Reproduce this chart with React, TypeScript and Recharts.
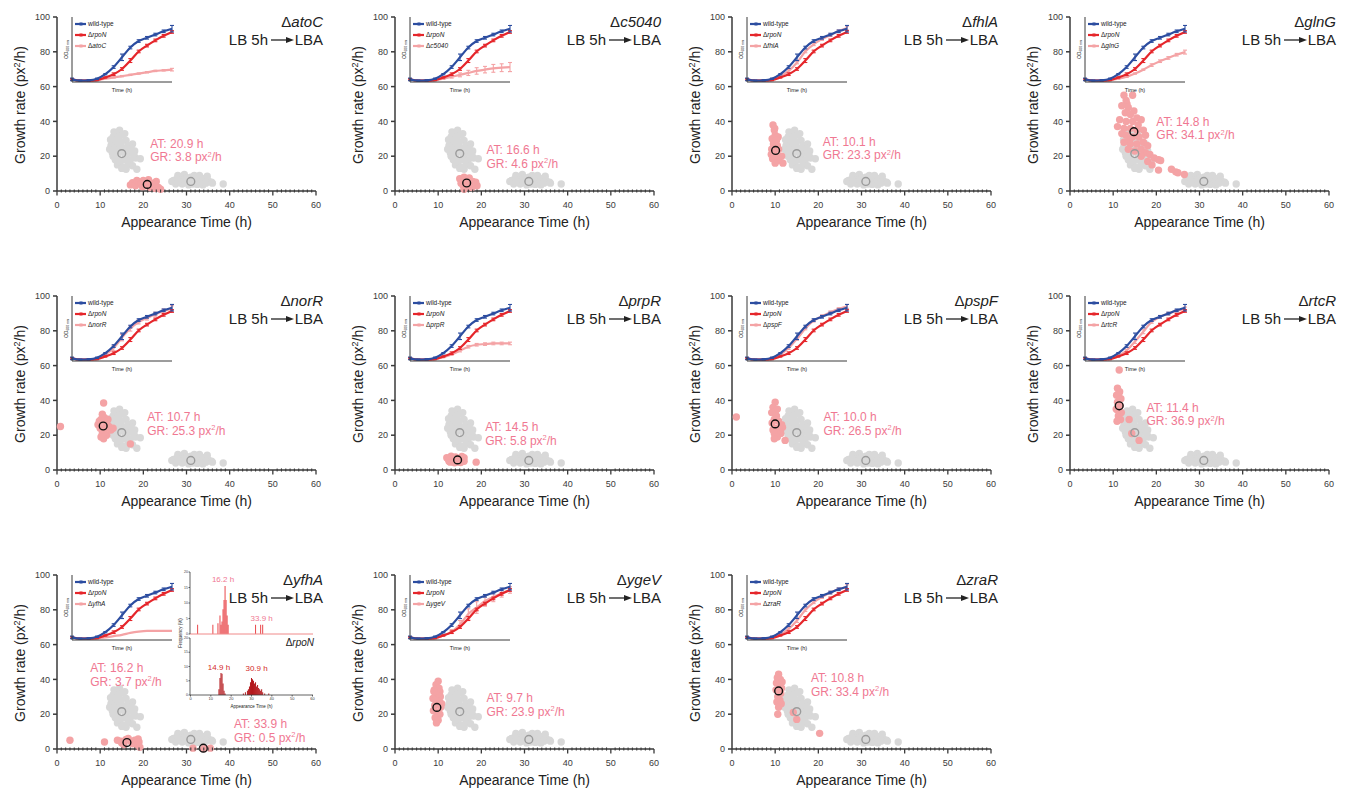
import React from 'react';
import {
  ScatterChart, Scatter, XAxis, YAxis, LineChart, Line, ErrorBar,
  BarChart, Bar, ReferenceDot,
} from 'recharts';

const FONT = '"Liberation Sans", Arial, Helvetica, sans-serif';
const INK = '#222222';
const AXIS = '#3a3a3a';
const GRAY = '#d8d8d8';
const GRAY_RING = '#9b9b9b';
const PINK = '#f4a3a5';
const PINK_TEXT = '#f07892';
const BLUE = '#2c4da0';
const RED = '#e5262b';
const HIST_TOP = '#e9474b';
const HIST_BOTTOM = '#b3171b';

type Pt = [number, number];

// ΔrpoN colonies (grey, same on every panel)
const rpoNEarlyPts: Pt[] = [
  [13.2, 34], [14.5, 35], [13, 31], [14, 30], [15, 32], [15.7, 33], [14.2, 31.5],
  [13.5, 28], [14.8, 28], [16, 29], [12.5, 26], [13.8, 25], [15.2, 25], [16.5, 26],
  [17.5, 27], [12.2, 24], [14.2, 24], [16.3, 24], [13.6, 23], [12.8, 22], [14, 21],
  [15.5, 22], [16.8, 22], [18, 23], [13, 20], [16, 20], [17.8, 21], [13.5, 18],
  [14.5, 17], [15.8, 18], [17, 18], [18.2, 19], [19.3, 18.5], [14, 15], [15.2, 14],
  [16.5, 15], [17.5, 14.5], [15, 13], [16, 12.5], [18.5, 12.5], [12.4, 29.5], [17.2, 24.5],
];
const rpoNLatePts: Pt[] = [
  [26.6, 5.5], [27, 6], [27.5, 4], [27.8, 7], [28, 5], [28, 9], [28.5, 8], [29, 7],
  [29, 4], [29.5, 9.5], [30, 5], [30, 7.5], [30.5, 3.5], [30.8, 6], [31, 8], [31.5, 4],
  [31.8, 9], [32, 6], [32.5, 3.8], [33, 9], [33, 7], [33.5, 5], [33.8, 3.5], [34, 7],
  [34.5, 4.5], [34.8, 8.5], [35, 6], [35.8, 5], [36, 4.5], [38.5, 4], [29.5, 6], [32.2, 7.8],
];
const rpoNMedians: Pt[] = [[15, 21.5], [31, 5.5]];

// mutant colonies (pink)
const atoCPts: Pt[] = [
  [17, 3.5], [17.5, 4.8], [18, 4], [18.2, 3], [18.5, 6], [19, 5], [19.5, 4], [19.8, 2.5],
  [20, 6], [20.2, 4.2], [20.5, 3], [21, 5], [21.2, 6.5], [21.5, 2], [22, 4.5], [22.5, 3],
  [22.8, 1.5], [23, 5.5], [23.5, 2], [24, 1],
];
const c5040Pts: Pt[] = [
  [15, 7], [15.5, 6], [16, 8], [16.5, 5], [17, 6.5], [17.5, 4], [18, 5.5], [18.5, 3.5],
  [19, 3], [16, 1], [15.8, 3], [16.8, 2.5], [17.8, 2], [15.3, 4.5], [18.7, 5], [16.3, 6.8], [17.2, 7.5],
];
const fhlAPts: Pt[] = [
  [9.5, 38], [9.8, 35], [9.9, 36], [10, 32], [10.7, 31], [9.3, 30], [10.3, 29], [9.6, 27],
  [10.5, 26], [9.2, 24], [10.8, 24], [9.6, 22], [9.1, 21], [10.2, 20], [10.9, 19], [9.4, 18.5],
  [10.6, 17.5], [10, 16], [11.5, 20], [11.8, 16],
];
const glnGPts: Pt[] = [
  [12.5, 55], [13, 52], [14.5, 55], [13.2, 50], [12, 49], [13.5, 48], [14.8, 46], [12.8, 45],
  [14, 44], [11.5, 41], [13, 40], [14.5, 40], [15.5, 42], [16.5, 41], [15.8, 38], [11, 37],
  [12.5, 36], [14, 36], [15.5, 35], [17, 35], [12, 33], [13, 32], [14.5, 31], [16, 31],
  [17.5, 32], [13.8, 29], [12.5, 28], [14, 27], [15.5, 27], [17, 28], [18, 26], [13.5, 24],
  [15, 23], [16.5, 24], [17.5, 22], [18.5, 21], [19.5, 19], [20.5, 18], [21, 17.5], [16.5, 20],
  [18, 17], [19, 15], [20.5, 12], [23.5, 12.5], [24.5, 11], [25, 10.5], [26.5, 9.5],
];
const norRPts: Pt[] = [
  [0.8, 25], [10.8, 38.5], [9.5, 26], [10.5, 32], [11, 30], [10.2, 29], [11.5, 27], [10, 24],
  [11, 23], [12, 25], [13, 24], [10.5, 21], [11.5, 20], [10.8, 18], [10.2, 19], [11.3, 26.5],
  [9.8, 28], [17, 15], [12.5, 23], [11.8, 29],
];
const prpRPts: Pt[] = [
  [12, 7], [12.3, 6.5], [12.5, 5], [12.8, 4.5], [13, 8], [13.5, 6], [13.8, 4.2], [14, 7.5],
  [14.2, 6], [14.5, 4.5], [15, 6.5], [15.2, 4.3], [15.5, 7.8], [16, 5], [16, 7], [18.8, 4.5],
];
const pspFPts: Pt[] = [
  [1, 30.5], [10, 39], [9.5, 36], [10.5, 35], [10.1, 34], [9.2, 33], [10.3, 31], [9.8, 29],
  [10.8, 28], [9.3, 27], [11.5, 26], [10.5, 24], [11.7, 24.5], [9.5, 23], [11.2, 22], [9.8, 21],
  [11.3, 21], [10.5, 19], [9.8, 18], [12.3, 17],
];
const rtcRPts: Pt[] = [
  [11.4, 57.5], [11, 47], [11.5, 45], [11.3, 44], [10.8, 43], [11.8, 41], [11, 39], [11.6, 37],
  [10.7, 35], [11, 34.5], [11.9, 33], [11.2, 31], [11.7, 29], [10.9, 28], [13.7, 29], [14.3, 21], [16, 17],
];
const yfhAPts: Pt[] = [
  [3, 5], [11, 4], [14, 5], [14.8, 4.5], [15, 3.5], [15.5, 2.5], [16, 5.5], [16.5, 6], [17, 4.5],
  [17.5, 3], [18, 5], [18.5, 2.5], [18.8, 5.8], [19, 4], [19.2, 1], [31.5, 0.5], [34, 0.2], [35.5, 0.5],
];
const ygeVPts: Pt[] = [
  [10, 39], [9.5, 37], [10.2, 35], [9.1, 34], [10.4, 33], [9, 33], [9.8, 31], [10.5, 30],
  [8.8, 29], [9.5, 28], [10.3, 27], [10.8, 26], [9.2, 25], [10.6, 24], [8.9, 22], [9.7, 21],
  [10.4, 20], [9.3, 18], [10, 16.5], [9.6, 15],
];
const zraRPts: Pt[] = [
  [10.8, 43], [10.5, 41], [11.2, 40], [11.6, 38.5], [10.3, 38], [11, 37], [11.5, 35], [10.2, 34],
  [11.3, 32], [10.6, 30], [11.1, 28], [10.4, 27], [11.4, 26], [10.8, 24], [10.6, 20], [14.2, 21],
  [15, 17], [20.3, 9],
];

// medians: [appearance time h, growth rate px²/h]
const atoCMed: Pt[] = [[20.9, 3.8]];
const c5040Med: Pt[] = [[16.6, 4.6]];
const fhlAMed: Pt[] = [[10.1, 23.3]];
const glnGMed: Pt[] = [[14.8, 34.1]];
const norRMed: Pt[] = [[10.7, 25.3]];
const prpRMed: Pt[] = [[14.5, 5.8]];
const pspFMed: Pt[] = [[10.0, 26.5]];
const rtcRMed: Pt[] = [[11.4, 36.9]];
const yfhAMed: Pt[] = [[16.2, 3.7], [33.9, 0.5]];
const ygeVMed: Pt[] = [[9.7, 23.9]];
const zraRMed: Pt[] = [[10.8, 33.4]];

// inset growth curves (OD600, normalised)
const odTime = [0, 2, 4, 6, 8, 10, 12, 14, 16, 18, 20, 22, 24];
const wtOD = [0.04, 0.02, 0.025, 0.05, 0.12, 0.23, 0.38, 0.53, 0.63, 0.68, 0.73, 0.78, 0.82];
const wtErr = [0.02, 0.01, 0.01, 0.01, 0.01, 0.02, 0.05, 0.02, 0.02, 0.02, 0.02, 0.02, 0.05];
const rpoNOD = [0.04, 0.02, 0.02, 0.03, 0.07, 0.12, 0.2, 0.33, 0.47, 0.56, 0.64, 0.71, 0.77];
const rpoNErr = [0.01, 0, 0.01, 0.01, 0.01, 0.02, 0.02, 0.03, 0.02, 0.02, 0.02, 0.02, 0.02];
const atoCOD = [0.04, 0.02, 0.02, 0.03, 0.05, 0.07, 0.09, 0.11, 0.13, 0.15, 0.17, 0.18, 0.19];
const atoCErr = [0.01, 0, 0, 0, 0, 0.01, 0.01, 0.01, 0.01, 0.01, 0.01, 0.01, 0.02];
const c5040OD = [0.04, 0.02, 0.02, 0.03, 0.05, 0.08, 0.11, 0.14, 0.17, 0.19, 0.21, 0.22, 0.23];
const c5040Err = [0.01, 0, 0, 0, 0.01, 0.02, 0.03, 0.04, 0.05, 0.05, 0.06, 0.06, 0.07];
const fhlAOD = [0.04, 0.02, 0.02, 0.04, 0.09, 0.17, 0.3, 0.47, 0.58, 0.66, 0.72, 0.78, 0.83];
const fhlAErr = [0.01, 0, 0, 0, 0.01, 0.02, 0.02, 0.02, 0.02, 0.02, 0.02, 0.02, 0.03];
const glnGOD = [0.04, 0.02, 0.02, 0.03, 0.05, 0.08, 0.13, 0.19, 0.26, 0.32, 0.37, 0.42, 0.46];
const glnGErr = [0.01, 0, 0, 0, 0.01, 0.01, 0.01, 0.01, 0.02, 0.02, 0.02, 0.02, 0.03];
const norROD = [0.04, 0.02, 0.02, 0.04, 0.1, 0.2, 0.36, 0.5, 0.6, 0.66, 0.72, 0.77, 0.8];
const norRErr = [0.01, 0, 0, 0.01, 0.02, 0.04, 0.05, 0.04, 0.03, 0.03, 0.03, 0.03, 0.05];
const prpROD = [0.04, 0.02, 0.02, 0.03, 0.06, 0.1, 0.16, 0.22, 0.25, 0.26, 0.27, 0.27, 0.27];
const prpRErr = [0.01, 0, 0, 0, 0.01, 0.01, 0.02, 0.02, 0.02, 0.02, 0.02, 0.02, 0.02];
const pspFOD = [0.04, 0.02, 0.02, 0.04, 0.1, 0.2, 0.34, 0.5, 0.62, 0.69, 0.75, 0.8, 0.84];
const pspFErr = [0.01, 0, 0, 0, 0.01, 0.02, 0.02, 0.02, 0.02, 0.02, 0.02, 0.02, 0.03];
const rtcROD = [0.04, 0.02, 0.02, 0.04, 0.08, 0.16, 0.3, 0.45, 0.6, 0.68, 0.73, 0.77, 0.8];
const rtcRErr = [0.01, 0, 0, 0, 0.01, 0.02, 0.03, 0.03, 0.02, 0.02, 0.02, 0.02, 0.03];
const yfhAOD = [0.04, 0.02, 0.02, 0.03, 0.04, 0.06, 0.08, 0.11, 0.13, 0.14, 0.14, 0.14, 0.14];
const ygeVOD = [0.04, 0.02, 0.02, 0.03, 0.07, 0.13, 0.24, 0.4, 0.5, 0.6, 0.66, 0.72, 0.77];
const ygeVErr = [0.01, 0, 0, 0, 0.01, 0.03, 0.06, 0.08, 0.09, 0.08, 0.07, 0.06, 0.05];
const zraROD = [0.04, 0.02, 0.02, 0.04, 0.08, 0.17, 0.3, 0.46, 0.58, 0.66, 0.73, 0.78, 0.82];
const zraRErr = [0.01, 0, 0, 0, 0.01, 0.02, 0.03, 0.02, 0.02, 0.02, 0.02, 0.02, 0.03];

// appearance-time histograms (ΔyfhA panel), 0.5 h bins, frequency %
const histBins = Array.from({ length: 121 }, (_, i) => i * 0.5);
const yfhAHistAt = [3.5, 11, 13.5, 14.5, 15, 15.5, 16, 16.5, 17, 17.5, 18, 18.5, 32, 34.5, 35.5];
const yfhAHistFreq = [3, 3, 3.5, 6, 3, 4, 8, 11, 15.5, 11, 6, 3, 3, 3, 3];
const rpoNHistAt = [14, 14.5, 15, 15.5, 16, 16.5, 17, 26, 27, 28, 28.5, 29, 29.5, 30, 30.5, 31, 31.5, 32, 32.5, 33, 33.5, 34, 34.5, 35, 35.5, 36.5, 38.5];
const rpoNHistFreq = [2, 6, 7.7, 7.5, 4, 1.5, 0.5, 0.5, 1, 1.5, 2, 3, 4.5, 6, 5.5, 5, 4, 4.5, 3, 3.5, 2.5, 2, 1.5, 2, 1, 0.5, 0.5];

const timeTicks = Array.from({ length: 61 }, (_, i) => i);
const rateTicks = [0, 20, 40, 60, 80, 100];
const odXTicks = [0, 3.43, 6.86, 10.29, 13.71, 17.14, 20.57, 24];
const odYTicks = [0.125, 0.375, 0.625, 0.875];

const colLeft = [0, 338, 675, 1013];
const rowTop = [0, 279, 558];

type PanelDef = {
  gene: string; col: number; row: number; pts: Pt[]; med: Pt[];
  noteAt: Pt[]; od: number[]; err?: number[]; hist?: boolean;
};

const panels: PanelDef[] = [
  { gene: 'atoC', col: 0, row: 0, pts: atoCPts, med: atoCMed, noteAt: [[21.6, 24.8]], od: atoCOD, err: atoCErr },
  { gene: 'c5040', col: 1, row: 0, pts: c5040Pts, med: c5040Med, noteAt: [[21.2, 21.2]], od: c5040OD, err: c5040Err },
  { gene: 'fhlA', col: 2, row: 0, pts: fhlAPts, med: fhlAMed, noteAt: [[21, 26]], od: fhlAOD, err: fhlAErr },
  { gene: 'glnG', col: 3, row: 0, pts: glnGPts, med: glnGMed, noteAt: [[20, 37.5]], od: glnGOD, err: glnGErr },
  { gene: 'norR', col: 0, row: 1, pts: norRPts, med: norRMed, noteAt: [[20.9, 28]], od: norROD, err: norRErr },
  { gene: 'prpR', col: 1, row: 1, pts: prpRPts, med: prpRMed, noteAt: [[20.9, 22.3]], od: prpROD, err: prpRErr },
  { gene: 'pspF', col: 2, row: 1, pts: pspFPts, med: pspFMed, noteAt: [[21.2, 28]], od: pspFOD, err: pspFErr },
  { gene: 'rtcR', col: 3, row: 1, pts: rtcRPts, med: rtcRMed, noteAt: [[17.7, 33.6]], od: rtcROD, err: rtcRErr },
  { gene: 'yfhA', col: 0, row: 2, pts: yfhAPts, med: yfhAMed, noteAt: [[7.7, 44.2], [41, 11.9]], od: yfhAOD, hist: true },
  { gene: 'ygeV', col: 1, row: 2, pts: ygeVPts, med: ygeVMed, noteAt: [[21.2, 26.9]], od: ygeVOD, err: ygeVErr },
  { gene: 'zraR', col: 2, row: 2, pts: zraRPts, med: zraRMed, noteAt: [[18.3, 38.4]], od: zraROD, err: zraRErr },
];

const toXY = (pts: Pt[]) => pts.map(([x, y]) => ({ x, y }));

const dotShape = (color: string) => (p: any) => <circle cx={p.cx} cy={p.cy} r={3.7} fill={color} />;
const ringShape = (color: string) => (p: any) => (
  <circle cx={p.cx} cy={p.cy} r={3.9} fill="none" stroke={color} strokeWidth={1.4} />
);

function NoteShape(p: any) {
  const { cx, cy, payload } = p;
  return (
    <g fontFamily={FONT} fontSize={12} fill={PINK_TEXT}>
      <text x={cx} y={cy}>AT: {payload.at} h</text>
      <text x={cx} y={cy + 13.5}>
        GR: {payload.gr} px<tspan dy={-4.5} fontSize={7.5}>2</tspan><tspan dy={4.5}>/h</tspan>
      </text>
    </g>
  );
}

function TimeTick(p: any) {
  const { x, y, payload } = p;
  const v = payload.value;
  if (v % 10 === 0) {
    return (
      <g>
        <line x1={x} x2={x} y1={y} y2={y + 4.5} stroke={AXIS} strokeWidth={1.3} />
        <text x={x} y={y + 16.5} textAnchor="middle" fontSize={9} fill={AXIS} fontFamily={FONT}>{v}</text>
      </g>
    );
  }
  return <line x1={x} x2={x} y1={y - 1.6} y2={y + 1.6} stroke={AXIS} strokeWidth={1.1} />;
}

function GeneName({ gene }: { gene: string }) {
  return (
    <>
      <tspan>Δ</tspan>
      <tspan fontStyle="italic">{gene}</tspan>
    </>
  );
}

function Histograms() {
  const rows = histBins.map((bin) => {
    const a = yfhAHistAt.indexOf(bin);
    const b = rpoNHistAt.indexOf(bin);
    return { bin, mut: a >= 0 ? yfhAHistFreq[a] : 0, rpoN: b >= 0 ? rpoNHistFreq[b] : 0 };
  });
  const tinyTick = { fontSize: 3.5, fill: AXIS, fontFamily: FONT };
  return (
    <>
      <div style={{ position: 'absolute', left: 178, top: 10 }}>
        <BarChart width={138} height={68} data={rows} margin={{ top: 4, right: 3, bottom: 0, left: 0 }} barCategoryGap={0} barGap={0}>
          <XAxis dataKey="bin" interval={19} tick={false} tickSize={1.5} height={2} stroke="#f08a8a" />
          <YAxis type="number" domain={[0, 20]} ticks={[0, 5, 10, 15, 20]} width={12} tickSize={1.5} tickMargin={0.5} tick={tinyTick} stroke={AXIS} strokeWidth={0.8} />
          <Bar dataKey="mut" fill={HIST_TOP} isAnimationActive={false} />
          <ReferenceDot x={16} y={15.5} r={0} fill="none" stroke="none" ifOverflow="visible"
            label={{ value: '16.2 h', position: 'top', offset: 4, fontSize: 8, fill: PINK_TEXT, fontFamily: FONT }} />
          <ReferenceDot x={35} y={2.5} r={0} fill="none" stroke="none" ifOverflow="visible"
            label={{ value: '33.9 h', position: 'top', offset: 5, fontSize: 8, fill: PINK_TEXT, fontFamily: FONT }} />
        </BarChart>
      </div>
      <div style={{ position: 'absolute', left: 178, top: 78 }}>
        <BarChart width={138} height={73} data={rows} margin={{ top: 2, right: 3, bottom: 0, left: 0 }} barCategoryGap={0} barGap={0}>
          <XAxis dataKey="bin" interval={19} tickSize={1.5} tickMargin={0.5} height={14} stroke={AXIS} strokeWidth={0.8}
            tick={{ fontSize: 4, fill: AXIS, fontFamily: FONT }}
            label={{ value: 'Appearance Time (h)', position: 'insideBottom', offset: 1, fontSize: 4.5, fill: INK, fontFamily: FONT }} />
          <YAxis type="number" domain={[0, 20]} ticks={[0, 5, 10, 15, 20]} width={12} tickSize={1.5} tickMargin={0.5} tick={tinyTick} stroke={AXIS} strokeWidth={0.8} />
          <Bar dataKey="rpoN" fill={HIST_BOTTOM} isAnimationActive={false} />
          <ReferenceDot x={14} y={7.7} r={0} fill="none" stroke="none" ifOverflow="visible"
            label={{ value: '14.9 h', position: 'top', offset: 3, fontSize: 8, fill: '#d42a2a', fontFamily: FONT }} />
          <ReferenceDot x={32.5} y={7.4} r={0} fill="none" stroke="none" ifOverflow="visible"
            label={{ value: '30.9 h', position: 'top', offset: 3, fontSize: 8, fill: '#d42a2a', fontFamily: FONT }} />
        </BarChart>
      </div>
    </>
  );
}

function GrowthPanel({ def }: { def: PanelDef }) {
  const curves = odTime.map((t, i) => ({
    t,
    wt: wtOD[i], wtErr: wtErr[i],
    rpoN: rpoNOD[i], rpoNErr: rpoNErr[i],
    mut: def.od[i], mutErr: def.err ? def.err[i] : 0,
  }));
  const notes = def.med.map(([x, y], i) => ({
    x: def.noteAt[i][0], y: def.noteAt[i][1], at: x.toFixed(1), gr: y.toFixed(1),
  }));
  const legend = [
    { color: BLUE, label: <tspan>wild-type</tspan> },
    { color: RED, label: <GeneName gene="rpoN" /> },
    { color: PINK, label: <GeneName gene={def.gene} /> },
  ];
  const legendY = [24, 35, 46];

  return (
    <div style={{ position: 'absolute', left: colLeft[def.col], top: rowTop[def.row], width: 338, height: 240 }}>
      <ScatterChart width={335} height={231} margin={{ top: 17, right: 19, bottom: 0, left: 0 }}>
        <XAxis type="number" dataKey="x" domain={[0, 60]} ticks={timeTicks} interval={0}
          tickSize={0} tickMargin={0} tickLine={false} tick={TimeTick}
          stroke={AXIS} strokeWidth={1.5} height={40}
          label={{ value: 'Appearance Time (h)', position: 'insideBottom', offset: 4, fontSize: 14, fill: INK, fontFamily: FONT }} />
        <YAxis type="number" dataKey="y" domain={[0, 100]} ticks={rateTicks} width={57}
          tickSize={4} tickMargin={3} stroke={AXIS} strokeWidth={1.5}
          tick={{ fontSize: 9, fill: AXIS, fontFamily: FONT }} />
        <Scatter data={toXY(rpoNEarlyPts)} shape={dotShape(GRAY)} isAnimationActive={false} />
        <Scatter data={toXY(rpoNLatePts)} shape={dotShape(GRAY)} isAnimationActive={false} />
        <Scatter data={toXY(def.pts)} shape={dotShape(PINK)} isAnimationActive={false} />
        <Scatter data={toXY(rpoNMedians)} shape={ringShape(GRAY_RING)} isAnimationActive={false} />
        <Scatter data={toXY(def.med)} shape={ringShape('#111111')} isAnimationActive={false} />
        <Scatter data={notes} shape={NoteShape} isAnimationActive={false} />
      </ScatterChart>

      <div style={{ position: 'absolute', left: 60, top: 12 }}>
        <LineChart width={118} height={81} data={curves} margin={{ top: 5, right: 6, bottom: 0, left: 0 }}>
          <XAxis type="number" dataKey="t" domain={[0, 24]} ticks={odXTicks} interval={0} tick={false}
            tickSize={2.5} stroke={AXIS} height={11}
            label={{ value: 'Time (h)', position: 'insideBottom', offset: 1, fontSize: 5.5, fill: INK, fontFamily: FONT }} />
          <YAxis type="number" domain={[0, 1]} ticks={odYTicks} tick={false} tickSize={2.5} width={12} stroke={AXIS} />
          <Line type="monotone" dataKey="mut" stroke={PINK} strokeWidth={2.2} dot={false} isAnimationActive={false}>
            {def.err && <ErrorBar dataKey="mutErr" width={2} stroke={PINK} strokeWidth={1.1} direction="y" />}
          </Line>
          <Line type="monotone" dataKey="rpoN" stroke={RED} strokeWidth={2.2} dot={false} isAnimationActive={false}>
            <ErrorBar dataKey="rpoNErr" width={2} stroke={RED} strokeWidth={1.1} direction="y" />
          </Line>
          <Line type="monotone" dataKey="wt" stroke={BLUE} strokeWidth={2.2} dot={false} isAnimationActive={false}>
            <ErrorBar dataKey="wtErr" width={2} stroke={BLUE} strokeWidth={1.1} direction="y" />
          </Line>
        </LineChart>
      </div>

      {def.hist && <Histograms />}

      <svg width={338} height={240} style={{ position: 'absolute', left: 0, top: 0, pointerEvents: 'none', overflow: 'visible' }} fontFamily={FONT}>
        <text transform="translate(24.5,105) rotate(-90)" textAnchor="middle" fontSize={14} fill={INK}>
          Growth rate (px<tspan dy={-5} fontSize={9}>2</tspan><tspan dy={5}>/h)</tspan>
        </text>
        <text x={323} y={27} textAnchor="end" fontSize={15} fill={INK}><GeneName gene={def.gene} /></text>
        <text x={268} y={45} textAnchor="end" fontSize={15} fill={INK}>LB 5h</text>
        <line x1={271} x2={288} y1={40} y2={40} stroke={INK} strokeWidth={1.3} />
        <polygon points="294,40 286,37 286,43" fill={INK} />
        <text x={323} y={45} textAnchor="end" fontSize={15} fill={INK}>LBA</text>
        <text transform="translate(68,49.5) rotate(-90)" textAnchor="middle" fontSize={5} fill={INK}>
          OD<tspan fontSize={3.5} dy={1}>600 nm</tspan>
        </text>
        {legend.map((item, i) => (
          <g key={i}>
            <line x1={75} x2={86} y1={legendY[i]} y2={legendY[i]} stroke={item.color} strokeWidth={2.2} />
            <rect x={79.5} y={legendY[i] - 1.5} width={3} height={3} fill={item.color} />
            <text x={88} y={legendY[i] + 2.2} fontSize={6.5} fill={INK}>{item.label}</text>
          </g>
        ))}
        {def.hist && (
          <>
            <text transform="translate(182,75) rotate(-90)" textAnchor="middle" fontSize={4.5} fill={INK}>Frequency (%)</text>
            <text x={314} y={88} textAnchor="end" fontSize={10} fill={INK}><GeneName gene="rpoN" /></text>
          </>
        )}
      </svg>
    </div>
  );
}

export default function App() {
  return (
    <div style={{ position: 'absolute', left: 0, top: 0, width: 1350, height: 791, background: '#ffffff', fontFamily: FONT }}>
      {panels.map((def) => (
        <GrowthPanel key={def.gene} def={def} />
      ))}
    </div>
  );
}
